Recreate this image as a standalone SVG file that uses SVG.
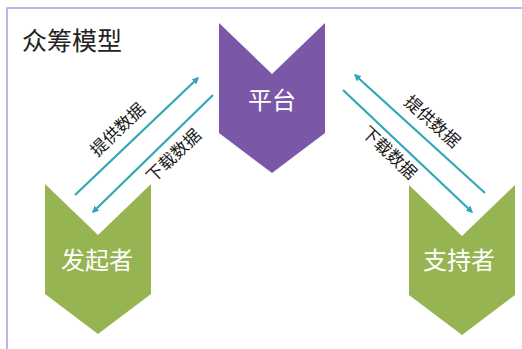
<svg xmlns="http://www.w3.org/2000/svg" width="522" height="349" viewBox="0 0 522 349">
<style>
.t{font-family:"Liberation Sans","Noto Sans CJK SC",sans-serif;}
.node{font-size:24px;fill:#ffffff;text-anchor:middle;dominant-baseline:central;}
.lbl{font-size:17px;fill:#1a1a1a;text-anchor:middle;dominant-baseline:central;}
.conn{stroke:#2fa7b6;stroke-width:2.2;fill:none;marker-end:url(#ah);}
</style>
<defs>
<path id="chev" d="M0,0 L53,51 L106,0 L106,110 L53,150 L0,110 Z"/>
<marker id="ah" viewBox="0 0 10 10" refX="8" refY="5" markerWidth="7" markerHeight="7" markerUnits="userSpaceOnUse" orient="auto">
<path d="M0,0 L10,5 L0,10 Z" fill="#2fa7b6"/>
</marker>
</defs>
<rect width="522" height="349" fill="#ffffff"/>
<rect x="7" y="8" width="530" height="360" fill="none" stroke="#a3a3df" stroke-width="1.5"/>
<text class="t" x="22" y="50" font-size="25" fill="#222222">众筹模型</text>
<g id="platform">
<use href="#chev" transform="translate(219,23)" fill="#7b58a7"/>
<text class="t node" x="272" y="100">平台</text>
</g>
<g id="initiator">
<use href="#chev" transform="translate(45,184)" fill="#96b552"/>
<text class="t node" x="97" y="260">发起者</text>
</g>
<g id="supporter">
<use href="#chev" transform="translate(409,185)" fill="#96b552"/>
<text class="t node" x="459" y="260">支持者</text>
</g>
<g id="connectors">
<line class="conn" x1="75" y1="195" x2="198" y2="78"/>
<line class="conn" x1="213" y1="95" x2="93" y2="212"/>
<line class="conn" x1="485" y1="193" x2="355" y2="75"/>
<line class="conn" x1="343" y1="90" x2="472" y2="212"/>
<text class="t lbl" transform="translate(118,130) rotate(-43.6)">提供数据</text>
<text class="t lbl" transform="translate(174,156) rotate(-44)">下载数据</text>
<text class="t lbl" transform="translate(432,122) rotate(42.2)">提供数据</text>
<text class="t lbl" transform="translate(389,153) rotate(43.4)">下载数据</text>
</g>
</svg>
